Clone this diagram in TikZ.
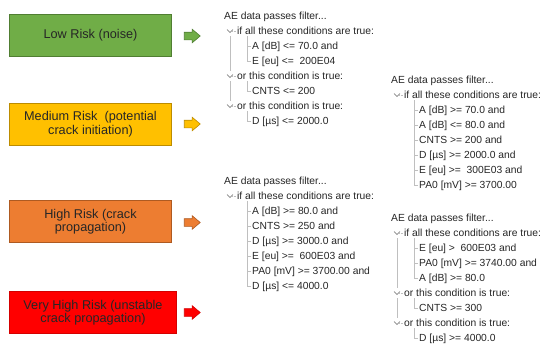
\documentclass[tikz,border=0pt]{standalone}
\usepackage{fontspec}
\setmainfont{Liberation Sans}
\usetikzlibrary{shapes.arrows}
\definecolor{lowfill}{HTML}{70AD47}\definecolor{lowline}{HTML}{507E32}
\definecolor{medfill}{HTML}{FFC000}\definecolor{medline}{HTML}{BC8C00}
\definecolor{highfill}{HTML}{ED7D31}\definecolor{highline}{HTML}{AE5A21}
\definecolor{vhfill}{HTML}{FF0000}\definecolor{vhline}{HTML}{D40000}
\begin{document}
\begin{tikzpicture}[x=1pt,y=-1pt,
  risk/.style={draw,line width=.8pt,minimum width=162pt,minimum height=42pt,inner sep=0,align=center,text=black!85,font=\fontsize{12.7}{13.5}\selectfont},
  riskarrow/.style={single arrow,draw,line width=.6pt,minimum height=16pt,inner sep=0,text width=0pt,text height=3.5pt,text depth=3.5pt,single arrow head extend=3pt,single arrow tip angle=80},
  aetext/.style={anchor=west,inner sep=0,text height=9pt,text depth=2pt,text=black!85,font=\fontsize{10.3}{12}\selectfont},
  guide/.style={draw=black!25,line width=.6pt},
  chev/.style={draw=black!60,line width=.6pt}]
\useasboundingbox[fill=white] (0,0) rectangle (550,354);
% tree helpers: name, x, y, text
\def\filter#1#2#3{\node[aetext] (#1) at (#2,#3){AE data passes filter...};}
\def\group#1#2#3#4{\node[aetext] (#1) at (#2+13,#3){#4};\draw[chev] ([xshift=-10pt,yshift=1.5pt]#1.west)--++(3,3)--++(3,-3);\draw[guide,densely dotted] ([xshift=-5pt]#1.west)--([xshift=-1pt]#1.west);}
\def\cond#1#2#3#4{\node[aetext] (#1) at (#2+28,#3){#4};\draw[guide] ([xshift=-1pt]#1.west)--++(-4,0);}
% risk levels
\node[risk,fill=lowfill,draw=lowline] (low) at (90.5,35.5){Low Risk (noise)};
\node[risk,fill=medfill,draw=medline] (medium) at (90.5,124){Medium Risk\ \ (potential\\crack initiation)};
\node[risk,fill=highfill,draw=highline] (high) at (90.5,221.5){High Risk (crack\\propagation)};
\node[risk,fill=vhfill,draw=vhline,minimum width=167pt] (veryhigh) at (93,312.5){Very High Risk (unstable\\crack propagation)};
\node[riskarrow,fill=lowfill,draw=lowline] (lowarr) at (190,36){};
\node[riskarrow,fill=medfill,draw=medline] (medarr) at (190,124){};
\node[riskarrow,fill=highfill,draw=highline] (higharr) at (190,222.5){};
\node[riskarrow,fill=vhfill,draw=vhline] (vharr) at (190,312.5){};
% low risk filter
\filter{lf}{224}{16}
\group{lg1}{224}{31}{if all these conditions are true:}
\cond{lc1}{224}{46}{A [dB] <= 70.0 and}
\cond{lc2}{224}{61}{E [eu] <=\ \ 200E04}
\group{lg2}{224}{76}{or this condition is true:}
\cond{lc3}{224}{91}{CNTS <= 200}
\group{lg3}{224}{106}{or this condition is true:}
\cond{lc4}{224}{121}{D [µs] <= 2000.0}
\draw[guide] ([xshift=10pt,yshift=-5pt]lg1.west) |- ([xshift=-1pt]lc2.west);
\draw[guide] ([xshift=10pt,yshift=-5pt]lg2.west) |- ([xshift=-1pt]lc3.west);
\draw[guide] ([xshift=10pt,yshift=-5pt]lg3.west) |- ([xshift=-1pt]lc4.west);
\draw[guide] ([xshift=-7pt,yshift=-5pt]lg1.west)--([xshift=-7pt,yshift=5pt]lg2.west);
\draw[guide] ([xshift=-7pt,yshift=-5pt]lg2.west)--([xshift=-7pt,yshift=5pt]lg3.west);
% medium risk filter
\filter{mf}{391}{80}
\group{mg1}{391}{95}{if all these conditions are true:}
\cond{mc1}{391}{110}{A [dB] >= 70.0 and}
\cond{mc2}{391}{125}{A [dB] <= 80.0 and}
\cond{mc3}{391}{140}{CNTS >= 200 and}
\cond{mc4}{391}{155}{D [µs] >= 2000.0 and}
\cond{mc5}{391}{170}{E [eu] >=\ \ 300E03 and}
\cond{mc6}{391}{185}{PA0 [mV] >= 3700.00}
\draw[guide] ([xshift=10pt,yshift=-5pt]mg1.west) |- ([xshift=-1pt]mc6.west);
% high risk filter
\filter{hf}{224}{181}
\group{hg1}{224}{196}{if all these conditions are true:}
\cond{hc1}{224}{211}{A [dB] >= 80.0 and}
\cond{hc2}{224}{226}{CNTS >= 250 and}
\cond{hc3}{224}{241}{D [µs] >= 3000.0 and}
\cond{hc4}{224}{256}{E [eu] >=\ \ 600E03 and}
\cond{hc5}{224}{271}{PA0 [mV] >= 3700.00 and}
\cond{hc6}{224}{286}{D [µs] <= 4000.0}
\draw[guide] ([xshift=10pt,yshift=-5pt]hg1.west) |- ([xshift=-1pt]hc6.west);
% very high risk filter
\filter{vf}{391}{218}
\group{vg1}{391}{233}{if all these conditions are true:}
\cond{vc1}{391}{248}{E [eu] >\ \ 600E03 and}
\cond{vc2}{391}{263}{PA0 [mV] >= 3740.00 and}
\cond{vc3}{391}{278}{A [dB] >= 80.0}
\group{vg2}{391}{293}{or this condition is true:}
\cond{vc4}{391}{308}{CNTS >= 300}
\group{vg3}{391}{323}{or this condition is true:}
\cond{vc5}{391}{338}{D [µs] >= 4000.0}
\draw[guide] ([xshift=10pt,yshift=-5pt]vg1.west) |- ([xshift=-1pt]vc3.west);
\draw[guide] ([xshift=10pt,yshift=-5pt]vg2.west) |- ([xshift=-1pt]vc4.west);
\draw[guide] ([xshift=10pt,yshift=-5pt]vg3.west) |- ([xshift=-1pt]vc5.west);
\draw[guide] ([xshift=-7pt,yshift=-5pt]vg1.west)--([xshift=-7pt,yshift=5pt]vg2.west);
\draw[guide] ([xshift=-7pt,yshift=-5pt]vg2.west)--([xshift=-7pt,yshift=5pt]vg3.west);
\end{tikzpicture}
\end{document}
